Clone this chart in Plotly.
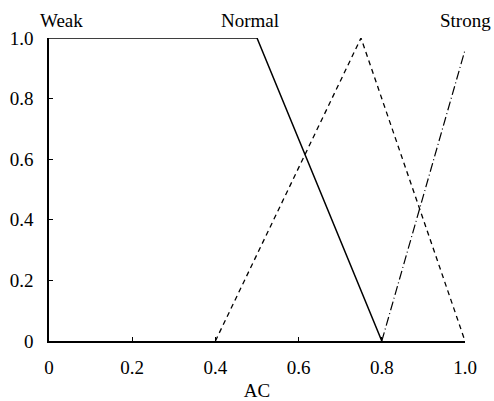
import plotly.graph_objects as go

weak_x = [0.0, 0.5, 0.8]
weak_y = [1.0, 1.0, 0.0]
normal_x = [0.4, 0.75, 1.0]
normal_y = [0.0, 1.0, 0.0]
strong_x = [0.8, 1.0]
strong_y = [0.0, 0.96]

tick_vals = [0, 0.2, 0.4, 0.6, 0.8, 1.0]
tick_text = ["0", "0.2", "0.4", "0.6", "0.8", "1.0"]
labels = ["Weak", "Normal", "Strong"]

font = "Liberation Serif"
fs = 19

fig = go.Figure()
fig.add_trace(go.Scatter(x=weak_x, y=weak_y, mode="lines",
                         line=dict(color="black", width=1.5), cliponaxis=False))
fig.add_trace(go.Scatter(x=normal_x, y=normal_y, mode="lines",
                         line=dict(color="black", width=1.3, dash="5px,4px"), cliponaxis=False))
fig.add_trace(go.Scatter(x=strong_x, y=strong_y, mode="lines",
                         line=dict(color="black", width=1.2, dash="9px,3px,1px,3px"), cliponaxis=False))

fig.add_annotation(text=labels[0], xref="paper", yref="paper", x=(61 - 49) / 416, y=1.0,
                   yshift=18, showarrow=False, xanchor="center", yanchor="middle",
                   font=dict(family=font, size=fs, color="black"))
fig.add_annotation(text=labels[1], xref="paper", yref="paper", x=(250 - 49) / 416, y=1.0,
                   yshift=18, showarrow=False, xanchor="center", yanchor="middle",
                   font=dict(family=font, size=fs, color="black"))
fig.add_annotation(text=labels[2], xref="paper", yref="paper", x=(493 - 49) / 416, y=1.0,
                   yshift=18, showarrow=False, xanchor="right", yanchor="middle",
                   font=dict(family=font, size=fs, color="black"))

fig.update_layout(
    width=494, height=401,
    margin=dict(l=49, r=29, t=38, b=60, autoexpand=False),
    paper_bgcolor="white", plot_bgcolor="white",
    showlegend=False,
    font=dict(family=font, size=fs, color="black"),
    xaxis=dict(range=[0, 1], tickvals=tick_vals, ticktext=tick_text,
               tickfont=dict(family=font, size=fs, color="black"),
               showgrid=False, zeroline=False, showline=True, linecolor="black",
               linewidth=1.5, ticks="inside", ticklen=4, tickcolor="black",
               ticklabelstandoff=8, automargin=False,
               title=dict(text="AC", standoff=8, font=dict(family=font, size=fs))),
    yaxis=dict(range=[0, 1], tickvals=tick_vals, ticktext=tick_text,
               tickfont=dict(family=font, size=fs, color="black"),
               showgrid=False, zeroline=False, showline=True, linecolor="black",
               linewidth=1.5, ticks="inside", ticklen=4, tickcolor="black",
               ticklabelstandoff=10, automargin=False),
)

fig.write_html("out.html")
